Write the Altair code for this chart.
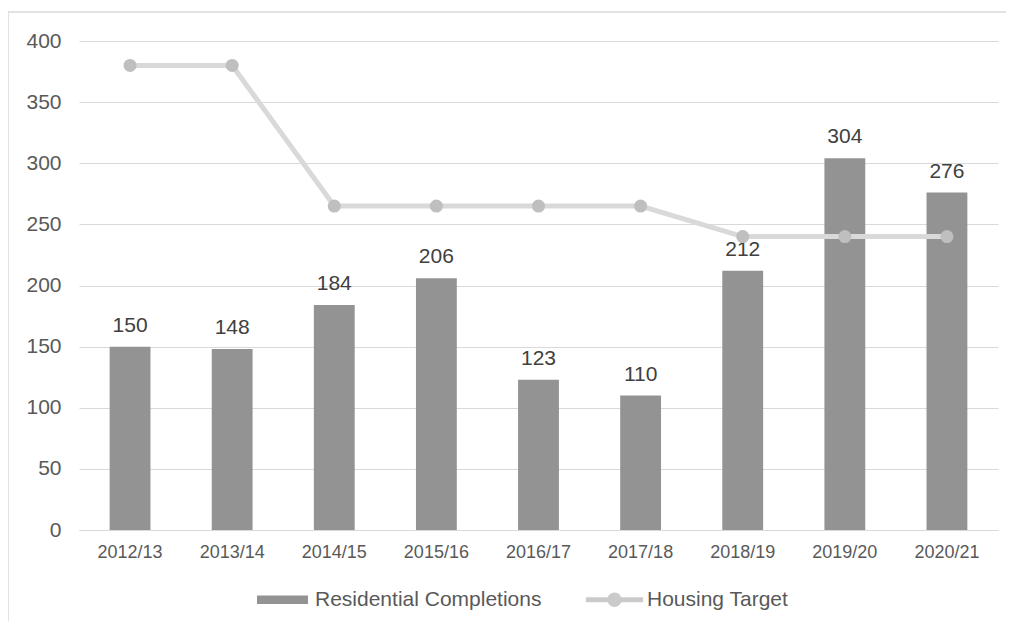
import altair as alt
import pandas as pd

years = ["2012/13", "2013/14", "2014/15", "2015/16", "2016/17", "2017/18", "2018/19", "2019/20", "2020/21"]
completions = [150, 148, 184, 206, 123, 110, 212, 304, 276]
targets = [380, 380, 265, 265, 265, 265, 240, 240, 240]
series_names = ["Residential Completions", "Housing Target"]
y_ticks = [0, 50, 100, 150, 200, 250, 300, 350, 400]

df = pd.DataFrame({
    "year": years,
    "completions": completions,
    "target": targets,
    "s_bar": series_names[0],
})
legend_df = pd.DataFrame({"series": series_names})
frame_df = pd.DataFrame({"k": [0]})

BAR_PATH = "M-1,-0.17H1V0.17H-1Z"
LINE_PATH = ("M-1.12,-0.1H1.12V0.1H-1.12Z "
             "M-0.28,0A0.28,0.28 0 1,1 0.28,0A0.28,0.28 0 1,1 -0.28,0Z")

color_scale = alt.Scale(domain=series_names, range=["#939393", "#cacaca"])
shape_scale = alt.Scale(domain=series_names, range=[BAR_PATH, LINE_PATH])

FONT = "Liberation Sans"

legend = alt.Legend(
    title=None, orient="none", legendX=178, legendY=533, direction="horizontal",
    labelFontSize=21, labelColor="#595959", labelFont=FONT,
    labelLimit=400,
    symbolSize=2601, symbolStrokeWidth=0, labelOffset=7, columnPadding=43,
)

x_enc = alt.X(
    "year:N", sort=years, title=None,
    scale=alt.Scale(paddingInner=0.6, paddingOuter=0.3),
    axis=alt.Axis(labelAngle=0, labelFontSize=18, labelColor="#595959",
                  labelPadding=13, ticks=False, domainColor="#d9d9d9", grid=False),
)
y_scale = alt.Scale(domain=[0, 400], nice=False)

frame = alt.Chart(frame_df).mark_rect(
    filled=False, stroke="#d9d9d9", strokeWidth=1.5
).encode(
    x=alt.value(-71), x2=alt.value(1100), y=alt.value(-29), y2=alt.value(800)
)

bars = alt.Chart(df).mark_bar(color="#939393").encode(
    x=x_enc,
    y=alt.Y("completions:Q", title=None, scale=y_scale,
            axis=alt.Axis(values=y_ticks, labelFontSize=21, labelColor="#595959",
                          labelPadding=18, domain=False, ticks=False,
                          gridColor="#d9d9d9", gridWidth=1)),
    color=alt.Color("s_bar:N", scale=color_scale, legend=legend),
)

labels = alt.Chart(df).mark_text(
    baseline="alphabetic", dy=-15, fontSize=21, color="#404040", font=FONT
).encode(
    x=alt.X("year:N", sort=years),
    y=alt.Y("completions:Q"),
    text=alt.Text("completions:Q"),
)

line = alt.Chart(df).mark_line(color="#d9d9d9", strokeWidth=5).encode(
    x=alt.X("year:N", sort=years),
    y=alt.Y("target:Q"),
)

points = alt.Chart(df).mark_point(
    filled=True, color="#bfbfbf", size=170, opacity=1
).encode(
    x=alt.X("year:N", sort=years),
    y=alt.Y("target:Q"),
)

ghost = alt.Chart(legend_df).mark_point(filled=True, opacity=1).encode(
    color=alt.Color("series:N", scale=color_scale, legend=legend),
    shape=alt.Shape("series:N", scale=shape_scale, legend=legend),
).transform_filter("false")

chart = alt.layer(frame, bars, labels, line, points, ghost).resolve_scale(
    color="shared"
).properties(
    width=919, height=489,
    autosize=alt.AutoSizeParams(type="none"),
    padding={"left": 71, "top": 33, "right": 8, "bottom": 91},
).configure_view(stroke=None).configure_axis(
    labelFont=FONT
)

chart.save("out.html", embed_options={"renderer": "svg", "actions": False})
